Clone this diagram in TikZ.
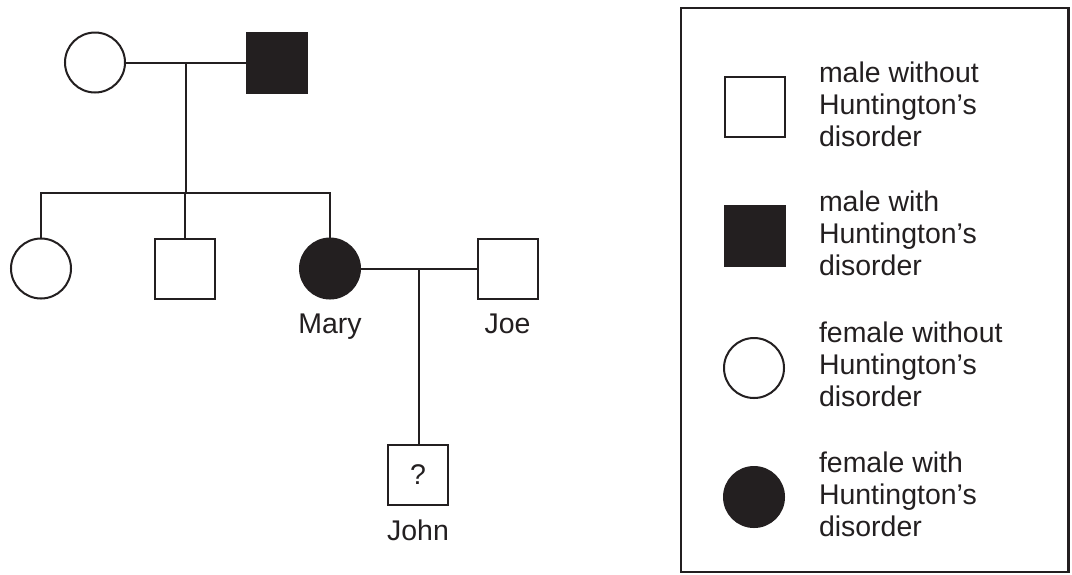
\documentclass[tikz,border=0pt]{standalone}
\usepackage{fontspec}
\setmainfont{Liberation Sans}
\usepackage{xcolor}
\usetikzlibrary{positioning}
\definecolor{ink}{HTML}{231F20}
\tikzset{
  male/.style={draw,fill=white,rectangle,minimum size=.6cm,inner sep=0},
  female/.style={draw,fill=white,circle,minimum size=.6cm,inner sep=0},
  ill/.style={fill=ink},
  tag/.style={inner sep=0},
  key/.style={anchor=west,align=left,inner sep=0},
}

\begin{document}
\begin{tikzpicture}[x=1cm,y=-1cm,color=ink,line width=.57pt,
    font=\fontsize{8.1}{9.1}\selectfont]
  \useasboundingbox (0,0) rectangle (10.72,5.74);

  \node (gm) [female] at (.95,.625) {};
  \node (gf) [male,ill] at (2.77,.625) {};
  \node (d1) [female] at (.41,2.685) {};
  \node (s1) [male] at (1.85,2.685) {};
  \node (mary) [female,ill] at (3.30,2.685) {};
  \node (joe) [male] at (5.075,2.685) {};
  \node (john) [male] at (4.18,4.75) {?};
  \node (lmary) [tag,below=.13cm of mary] {Mary};
  \node (ljoe) [tag,below=.13cm of joe] {Joe};
  \node (ljohn) [tag,below=.13cm of john] {John};

  \draw (gm) -- coordinate (gc) (gf);
  \path (gc) ++(0,1.305) coordinate (sib);
  \draw (gc) -- (sib);
  \draw (d1.north) |- (sib) -| (mary.north);
  \draw (s1.north) -- (s1.north |- sib);
  \draw (mary) -- coordinate (pc) (joe);
  \draw (pc) -- (pc |- john.north);

  \draw[line width=.7pt] (6.81,.08) rectangle (10.685,5.72);
  \node (kmale) [male] at (7.545,1.07) {};
  \node (tmale) [key] at (8.18,1.045) {male without\\Huntington’s\\disorder};
  \node (kmill) [male,ill] at (7.545,2.36) {};
  \node (tmill) [key] at (8.18,2.335) {male with\\Huntington’s\\disorder};
  \node (kfem) [female] at (7.54,3.68) {};
  \node (tfem) [key] at (8.18,3.64) {female without\\Huntington’s\\disorder};
  \node (kfill) [female,ill] at (7.54,4.97) {};
  \node (tfill) [key] at (8.18,4.94) {female with\\Huntington’s\\disorder};
\end{tikzpicture}
\end{document}
